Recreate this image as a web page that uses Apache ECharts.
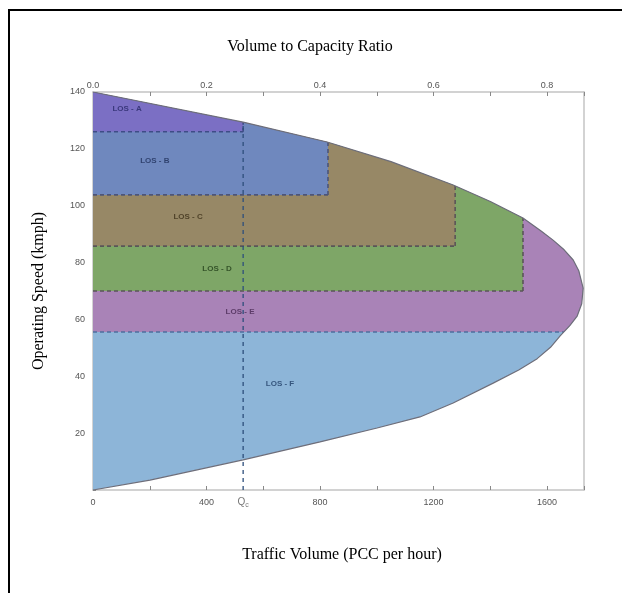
<!DOCTYPE html>
<html>
<head>
<meta charset="utf-8">
<script src="https://cdn.jsdelivr.net/npm/echarts@6/dist/echarts.min.js"></script>
<style>
  html, body { margin: 0; padding: 0; background: #fff; }
  #chart { width: 622px; height: 593px; }
</style>
</head>
<body>
<div id="chart"></div>
<script>
// Speed–flow envelope: lower branch (congested) from the origin to the nose
const lowerFlow  = [0, 201, 529, 800, 1001, 1152, 1269, 1410, 1500, 1565, 1612, 1646, 1680, 1706, 1722];
const lowerSpeed = [0, 3.5, 10.6, 16.9, 21.8, 25.7, 30.6, 37.6, 42.2, 46.2, 50.2, 54.2, 57.8, 61.2, 65.5];
// Upper branch (uncongested) from the nose back to free-flow speed
const upperFlow  = [1727, 1712, 1692, 1660, 1621, 1580, 1515, 1400, 1269, 1050, 825, 529, 0];
const upperSpeed = [71, 77, 80.9, 84.5, 87.9, 91, 95.7, 101.5, 107.3, 115.5, 122.4, 129.4, 140];

// Level-of-service zones: minimum speed and maximum flow of each zone
const losNames     = ['LOS - F', 'LOS - E', 'LOS - D', 'LOS - C', 'LOS - B', 'LOS - A'];
const losMinSpeed  = [0, 55.6, 70, 85.8, 103.8, 126];
const losMaxFlow   = [null, null, 1515, 1276, 828, 529];

// Label anchor positions (flow, speed) for each zone
const labelFlow  = [659, 518, 437, 335, 218, 120];
const labelSpeed = [37.5, 62.6, 77.7, 96, 115.7, 134];

// Critical volume marker
const qFlow = 529;
const qLabel = 'Q';

// Axis settings
const flowMax = 1730, flowStep = 200, flowLabelStep = 400;
const capacity = 2000;
const speedMax = 140, speedStep = 20;

const fills   = ['#8db5d8', '#a983b7', '#7ea667', '#978866', '#6f88be', '#7b6fc4'];
const strokes = ['#3f6696', '#4f6f9f', '#5a5558', '#5a5558', '#4d5578', '#3e4d86'];
const textCol = ['#1f3d66', '#4a2a55', '#23401a', '#3f321a', '#1f2f5a', '#2a2a6a'];

// Closed envelope polygon in data space
const envelope = [];
lowerFlow.forEach((q, i) => envelope.push([q, lowerSpeed[i]]));
upperFlow.forEach((q, i) => envelope.push([q, upperSpeed[i]]));

// Sutherland–Hodgman clip of a polygon by one half-plane
function clip(poly, inside, cut) {
  const out = [];
  for (let i = 0; i < poly.length; i++) {
    const a = poly[i], b = poly[(i + 1) % poly.length];
    const ia = inside(a), ib = inside(b);
    if (ia) out.push(a);
    if (ia !== ib) out.push(cut(a, b));
  }
  return out;
}
function clipMinSpeed(poly, s) {
  return clip(poly, p => p[1] >= s - 1e-9, (a, b) => {
    const t = (s - a[1]) / (b[1] - a[1]);
    return [a[0] + t * (b[0] - a[0]), s];
  });
}
function clipMaxFlow(poly, c) {
  return clip(poly, p => p[0] <= c + 1e-9, (a, b) => {
    const t = (c - a[0]) / (b[0] - a[0]);
    return [c, a[1] + t * (b[1] - a[1])];
  });
}
function zonePolygon(i) {
  let p = clipMinSpeed(envelope, losMinSpeed[i]);
  if (losMaxFlow[i] != null) p = clipMaxFlow(p, losMaxFlow[i]);
  return p;
}
// Speed on the upper branch at a given flow
function upperSpeedAt(q) {
  for (let i = 0; i < upperFlow.length - 1; i++) {
    const q0 = upperFlow[i], q1 = upperFlow[i + 1];
    if ((q <= q0 && q >= q1)) {
      const t = (q - q0) / (q1 - q0);
      return upperSpeed[i] + t * (upperSpeed[i + 1] - upperSpeed[i]);
    }
  }
  return speedMax;
}

function renderZone(params, api) {
  const i = api.value(0);
  const poly = zonePolygon(i);
  const pts = poly.map(p => api.coord(p));
  const children = [{
    type: 'polygon',
    shape: { points: pts },
    style: { fill: fills[i], stroke: null }
  }];
  // dashed edges along the zone's speed floor and flow cap
  const s = losMinSpeed[i], c = losMaxFlow[i];
  if (s > 0) {
    for (let k = 0; k < poly.length; k++) {
      const a = poly[k], b = poly[(k + 1) % poly.length];
      const onFloor = Math.abs(a[1] - s) < 1e-6 && Math.abs(b[1] - s) < 1e-6;
      const onCap = c != null && Math.abs(a[0] - c) < 1e-6 && Math.abs(b[0] - c) < 1e-6;
      if (onFloor || onCap) {
        const pa = api.coord(a), pb = api.coord(b);
        children.push({
          type: 'line',
          shape: { x1: pa[0], y1: pa[1], x2: pb[0], y2: pb[1] },
          style: { stroke: strokes[i], lineWidth: 1.6, lineDash: [4, 3] }
        });
      }
    }
  }
  return { type: 'group', children };
}

const chart = echarts.init(document.getElementById('chart'));
const serif = '"Liberation Serif", "DejaVu Serif", serif';
const tickFont = { fontSize: 9, color: '#555', fontFamily: 'Liberation Sans, sans-serif' };
const frameLine = { onZero: false, lineStyle: { color: '#c4c4c4', width: 1.5 } };

chart.setOption({
  animation: false,
  backgroundColor: '#fff',
  grid: { left: 93, top: 92, right: 38, bottom: 103 },
  xAxis: [{
    type: 'value', position: 'bottom', min: 0, max: flowMax, interval: flowStep,
    axisLine: frameLine,
    axisTick: { inside: true, length: 4, lineStyle: { color: '#888' } },
    splitLine: { show: false },
    axisLabel: Object.assign({ margin: 8, formatter: v => (v % flowLabelStep === 0 ? String(v) : '') }, tickFont)
  }, {
    type: 'value', position: 'top', min: 0, max: flowMax / capacity, interval: 0.1,
    axisLine: frameLine,
    axisTick: { inside: true, length: 4, lineStyle: { color: '#888' } },
    splitLine: { show: false },
    axisLabel: Object.assign({ margin: 2, formatter: v => (Math.round(v * 10) % 2 === 0 ? v.toFixed(1) : '') }, tickFont)
  }],
  yAxis: [{
    type: 'value', position: 'left', min: 0, max: speedMax, interval: speedStep,
    name: 'Operating Speed (kmph)', nameLocation: 'middle', nameGap: 46,
    nameTextStyle: { fontFamily: serif, fontSize: 16, color: '#000' },
    axisLine: Object.assign({ show: true }, frameLine),
    axisTick: { inside: true, length: 3, lineStyle: { color: '#888' } },
    splitLine: { show: false },
    axisLabel: Object.assign({ margin: 8, formatter: v => (v === 0 ? '' : String(v)) }, tickFont)
  }, {
    type: 'value', position: 'right', min: 0, max: speedMax, interval: speedStep,
    axisLine: Object.assign({ show: true }, frameLine),
    axisTick: { show: false }, axisLabel: { show: false }, splitLine: { show: false }
  }],
  series: [{
    type: 'custom',
    renderItem: renderZone,
    data: losNames.map((n, i) => [i]),
    encode: { x: -1, y: -1 },
    silent: true,
    z: 2
  }, {
    // envelope outline
    type: 'line',
    data: envelope,
    showSymbol: false,
    lineStyle: { color: '#6e6e7a', width: 1.2 },
    silent: true,
    z: 3
  }, {
    // critical volume line
    type: 'line',
    data: [[qFlow, 0], [qFlow, upperSpeedAt(qFlow)]],
    showSymbol: false,
    lineStyle: { color: '#2e4f7c', width: 1.3, type: [4, 4] },
    silent: true,
    z: 4
  }, {
    type: 'scatter',
    data: [[qFlow, 0]],
    symbolSize: 0,
    silent: true,
    label: {
      show: true, position: 'bottom', distance: 6,
      formatter: '{q|' + qLabel + '}{s|c}',
      rich: { q: { fontSize: 10, color: '#555' }, s: { fontSize: 7, color: '#555', verticalAlign: 'bottom', padding: [6, 0, 0, 0] } }
    },
    z: 5
  }, {
    type: 'scatter',
    data: labelFlow.map((q, i) => ({
      value: [q, labelSpeed[i]],
      name: losNames[i],
      label: { color: textCol[i] }
    })),
    symbolSize: 0,
    silent: true,
    label: {
      show: true, position: 'inside',
      formatter: p => p.name,
      fontSize: 8, fontWeight: 'bold', fontFamily: 'Liberation Sans, sans-serif'
    },
    itemStyle: { color: 'transparent' },
    z: 6
  }],
  graphic: [
    { type: 'line', shape: { x1: 8, y1: 10, x2: 622, y2: 10 }, style: { stroke: '#000', lineWidth: 2 } },
    { type: 'line', shape: { x1: 9, y1: 10, x2: 9, y2: 593 }, style: { stroke: '#000', lineWidth: 2 } },
    { type: 'text', style: { text: 'Volume to Capacity Ratio', x: 310, y: 47, align: 'center', verticalAlign: 'middle', font: '16px "Liberation Serif", serif', fill: '#000' } },
    { type: 'text', style: { text: 'Traffic Volume (PCC per hour)', x: 342, y: 555, align: 'center', verticalAlign: 'middle', font: '16px "Liberation Serif", serif', fill: '#000' } }
  ]
});
</script>
</body>
</html>
